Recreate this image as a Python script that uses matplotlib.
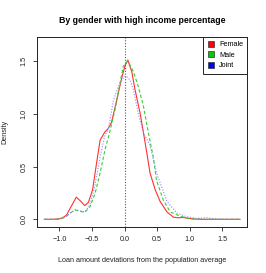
import matplotlib
matplotlib.use("Agg")
import matplotlib.pyplot as plt
from matplotlib.lines import Line2D

plt.rcParams['font.family'] = ['Liberation Sans', 'DejaVu Sans']

female_x = [-1.23, -1.10, -1.00, -0.95, -0.89, -0.82, -0.74, -0.67, -0.61, -0.555, -0.49, -0.43,
            -0.375, -0.30, -0.25, -0.20, -0.12, -0.04, 0.01, 0.05, 0.11, 0.16, 0.24, 0.29,
            0.325, 0.39, 0.47, 0.545, 0.65, 0.75, 0.82, 0.90, 1.00, 1.06, 1.20, 1.50, 1.77]
female_y = [0.0, 0.0, 0.005, 0.015, 0.04, 0.12, 0.21, 0.17, 0.13, 0.16, 0.28, 0.53,
            0.75, 0.83, 0.86, 0.92, 1.13, 1.35, 1.46, 1.51, 1.40, 1.23, 1.00, 0.82,
            0.69, 0.44, 0.28, 0.17, 0.07, 0.02, 0.015, 0.017, 0.008, 0.003, 0.0, 0.0, 0.0]

male_x = [-1.23, -1.10, -1.00, -0.91, -0.83, -0.76, -0.71, -0.61, -0.53, -0.45, -0.375, -0.30,
          -0.23, -0.146, -0.07, -0.02, 0.05, 0.135, 0.21, 0.29, 0.365, 0.44, 0.49, 0.595,
          0.70, 0.85, 1.00, 1.20, 1.50, 1.77]
male_y = [0.0, 0.0, 0.0, 0.02, 0.06, 0.09, 0.08, 0.065, 0.12, 0.25, 0.44, 0.66,
          0.82, 1.04, 1.29, 1.45, 1.50, 1.40, 1.26, 1.07, 0.82, 0.59, 0.37, 0.18,
          0.07, 0.03, 0.005, 0.0, 0.0, 0.0]

joint_x = [-1.23, -1.10, -1.00, -0.91, -0.83, -0.76, -0.71, -0.61, -0.53, -0.46, -0.375, -0.30,
           -0.25, -0.17, -0.095, -0.02, 0.02, 0.085, 0.135, 0.21, 0.29, 0.39, 0.49, 0.65,
           0.80, 0.95, 1.10, 1.26, 1.41, 1.60, 1.77]
joint_y = [0.0, 0.0, 0.0, 0.02, 0.06, 0.09, 0.085, 0.07, 0.14, 0.30, 0.59, 0.80,
           0.85, 1.13, 1.26, 1.34, 1.36, 1.32, 1.23, 1.00, 0.82, 0.70, 0.44, 0.17,
           0.06, 0.025, 0.01, 0.015, 0.003, 0.0, 0.0]

x_ticks = [-1.0, -0.5, 0.0, 0.5, 1.0, 1.5]
y_ticks = [0.0, 0.5, 1.0, 1.5]
legend_labels = ['Female', 'Male', 'Joint']
legend_colors = ['#FF0000', '#00CD00', '#0000FF']

fig = plt.figure(figsize=(2.66, 2.73), dpi=100)
ax = fig.add_axes([0.138, 0.1696, 0.792, 0.696])

ax.plot(female_x, female_y, color='#FF3030', lw=0.8, ls='-')
ax.plot(male_x, male_y, color='#30D030', lw=0.8, ls=(0, (3, 2)))
ax.plot(joint_x, joint_y, color='#8C8CFF', lw=0.8, ls=(0, (1, 1.5)))
ax.axvline(0.0, color='#555555', lw=0.8, ls=(0, (1, 1.5)))

ax.set_xlim(-1.347, 1.883)
ax.set_ylim(-0.07, 1.731)
ax.set_xticks(x_ticks)
ax.set_xticklabels(['\u22121.0', '\u22120.5', '0.0', '0.5', '1.0', '1.5'])
ax.set_yticks(y_ticks)
ax.set_yticklabels(['0.0', '0.5', '1.0', '1.5'])
ax.tick_params(direction='out', length=3, width=0.6, labelsize=5.2, pad=3.5, colors='#222222')
ax.tick_params(axis='y', labelrotation=90)
for lab in ax.get_yticklabels():
    lab.set_va('center')
for s in ax.spines.values():
    s.set_linewidth(0.7)
    s.set_color('#222222')

ax.set_title('By gender with high income percentage', fontsize=6.3, fontweight='bold', pad=10)
ax.set_xlabel('Loan amount deviations from the population average', fontsize=5.2, labelpad=10, color='#222222')
ax.set_ylabel('Density', fontsize=5.2, labelpad=9, color='#222222')

handles = [Line2D([], [], marker='s', ls='none', markersize=4, markerfacecolor=c,
                  markeredgecolor='#333333', markeredgewidth=0.5) for c in legend_colors]
leg = ax.legend(handles, legend_labels, loc='upper right', borderaxespad=0, fontsize=5.2,
                fancybox=False, framealpha=1, edgecolor='#222222', handlelength=1.0,
                handletextpad=0.6, labelspacing=0.5, borderpad=0.6)
leg.get_frame().set_linewidth(0.7)

fig.savefig('out.png', dpi=100)
